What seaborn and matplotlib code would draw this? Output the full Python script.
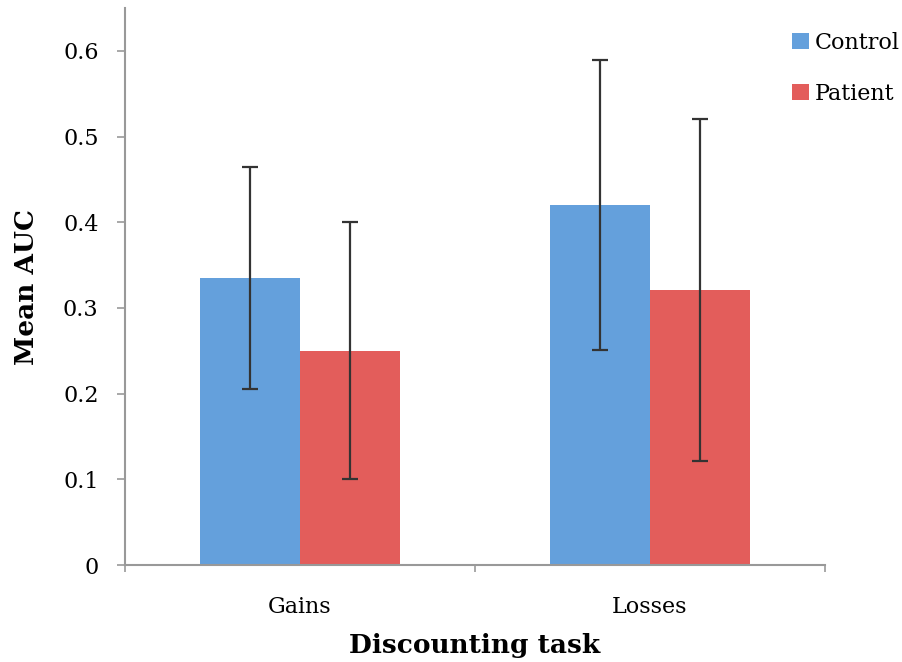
import pandas as pd
import numpy as np
import matplotlib
matplotlib.use("Agg")
import matplotlib.pyplot as plt
import seaborn as sns

tasks = ["Gains", "Losses"]
groups = ["Control", "Patient"]
control_auc = [0.335, 0.42]
patient_auc = [0.25, 0.321]
control_err = [0.13, 0.169]
patient_err = [0.15, 0.20]

df = pd.DataFrame({
    "task": tasks * 2,
    "group": ["Control"] * 2 + ["Patient"] * 2,
    "auc": control_auc + patient_auc,
    "err": control_err + patient_err,
})

sns.set_style("white")
plt.rcParams["font.family"] = ["DejaVu Serif"]
plt.rcParams["text.color"] = "black"
plt.rcParams["axes.labelcolor"] = "black"
plt.rcParams["xtick.color"] = "black"
plt.rcParams["ytick.color"] = "black"

fig = plt.figure(figsize=(9.03, 6.62), dpi=100)
ax = fig.add_axes([0.1384, 0.1465, 0.7752, 0.8414])

palette = {"Control": "#64a0dc", "Patient": "#e35d5b"}
sns.barplot(data=df, x="task", y="auc", hue="group", order=tasks, hue_order=groups,
            palette=palette, width=0.573, errorbar=None, saturation=1,
            edgecolor="none", ax=ax)

# error bars at each bar centre
for cont, grp in zip(ax.containers, groups):
    sub = df[df["group"] == grp].set_index("task").loc[tasks]
    xs = [p.get_x() + p.get_width() / 2 for p in cont.patches]
    ax.errorbar(xs, sub["auc"], yerr=sub["err"], fmt="none", ecolor="#333333",
                elinewidth=1.6, capsize=6, capthick=1.6, zorder=5)

ax.set_xlim(-0.5, 1.5)
ax.set_ylim(0, 0.65)
ax.set_yticks(np.arange(0, 0.61, 0.1))
ax.set_yticklabels(["0", "0.1", "0.2", "0.3", "0.4", "0.5", "0.6"])
ax.set_xticks([0, 1])
ax.set_xticks([-0.5, 0.5, 1.5], minor=True)
ax.tick_params(axis="y", which="major", length=6, width=1.2, color="#999999",
               labelcolor="black", labelsize=16, pad=13, left=True)
ax.tick_params(axis="x", which="major", length=0, labelsize=16, pad=22, labelcolor="black")
ax.tick_params(axis="x", which="minor", length=5, width=1.2, color="#999999", bottom=True)

for s in ["top", "right"]:
    ax.spines[s].set_visible(False)
for s in ["left", "bottom"]:
    ax.spines[s].set_color("#999999")
    ax.spines[s].set_linewidth(1.5)

ax.set_xlabel("Discounting task", fontsize=19, fontweight="bold", labelpad=11)
ax.set_ylabel("Mean AUC", fontsize=19, fontweight="bold", labelpad=17)

leg = ax.legend(loc="upper left", bbox_to_anchor=(0.953, 0.957), frameon=False,
                fontsize=16, handlelength=0.75, handleheight=0.75, handletextpad=0.25,
                labelspacing=1.3, borderaxespad=0, borderpad=0)

fig.savefig("out.png", dpi=100)
